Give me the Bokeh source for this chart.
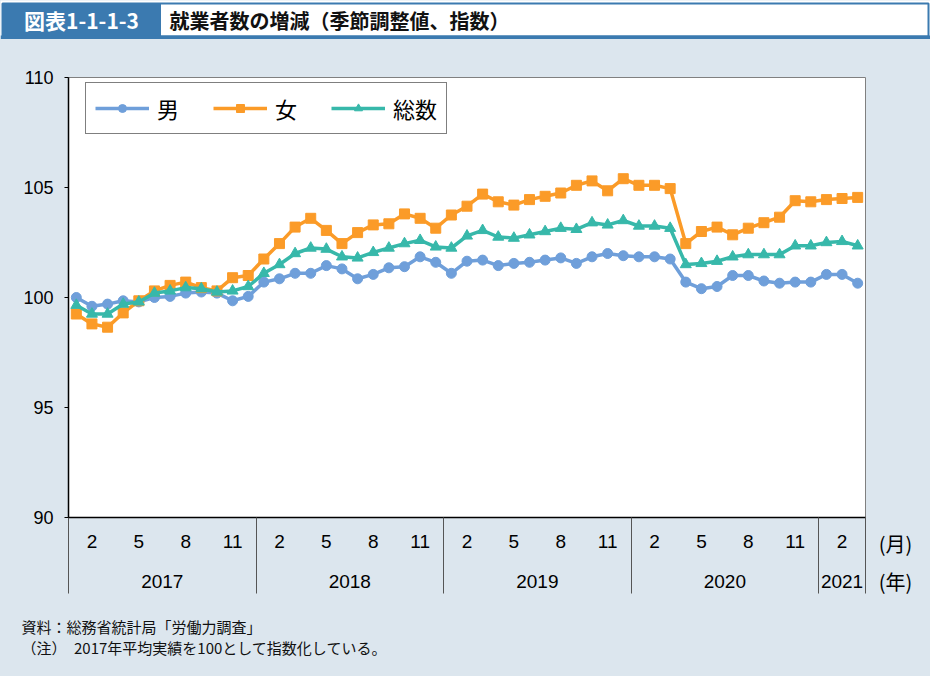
from bokeh.plotting import figure
from bokeh.models import Range1d, FixedTicker, LinearAxis, Legend, LegendItem
from bokeh.layouts import column, row
from bokeh.embed import file_html
from bokeh.resources import INLINE
from bokeh.core.properties import value

# ---------------- data ----------------
years = ["2017", "2018", "2019", "2020", "2021"]
months_per_year = [12, 12, 12, 12, 3]
labeled_months = [2, 5, 8, 11]
month_labels = ["2", "5", "8", "11"]
series_names = ["男", "女", "総数"]
unit_labels = ["(月)", "(年)"]
notes = ["資料：総務省統計局「労働力調査」",
         "（注）　2017年平均実績を100として指数化している。"]

men = [100.0, 99.6, 99.7, 99.85, 99.8, 100.0, 100.05, 100.2, 100.25, 100.2, 99.85, 100.05,
       100.7, 100.85, 101.1, 101.1, 101.45, 101.3, 100.85, 101.05, 101.35, 101.4, 101.85, 101.6,
       101.1, 101.65, 101.7, 101.45, 101.55, 101.6, 101.7, 101.8, 101.55, 101.85, 102.0, 101.9,
       101.85, 101.85, 101.75, 100.7, 100.4, 100.5, 101.0, 101.0, 100.75, 100.65, 100.7, 100.7,
       101.05, 101.05, 100.65]
women = [99.25, 98.8, 98.65, 99.3, 99.85, 100.3, 100.55, 100.7, 100.45, 100.3, 100.9, 101.0,
         101.75, 102.45, 103.2, 103.6, 103.05, 102.45, 102.95, 103.3, 103.35, 103.8, 103.6, 103.15,
         103.75, 104.15, 104.7, 104.35, 104.2, 104.45, 104.6, 104.75, 105.1, 105.3, 104.85, 105.4,
         105.1, 105.1, 104.95, 102.45, 103.0, 103.2, 102.85, 103.15, 103.4, 103.65, 104.4, 104.35,
         104.45, 104.5, 104.55]
total = [99.65, 99.25, 99.25, 99.7, 99.8, 100.2, 100.3, 100.45, 100.4, 100.25, 100.3, 100.5,
         101.1, 101.5, 102.0, 102.25, 102.2, 101.85, 101.8, 102.05, 102.25, 102.45, 102.6, 102.3,
         102.25, 102.8, 103.05, 102.75, 102.7, 102.85, 103.0, 103.15, 103.1, 103.4, 103.3, 103.5,
         103.25, 103.25, 103.15, 101.5, 101.55, 101.65, 101.85, 101.95, 101.95, 101.95, 102.35, 102.35,
         102.5, 102.55, 102.35]
y_ticks = [90, 95, 100, 105, 110]

# ---------------- derived positions ----------------
periods = [(y, m) for y, n in zip(years, months_per_year) for m in range(1, n + 1)]
x = list(range(len(periods)))
month_ticks = [i for i, (yy, m) in enumerate(periods) if m in labeled_months]
month_overrides = {i: month_labels[labeled_months.index(periods[i][1])] for i in month_ticks}
starts = []
s = 0
for n in months_per_year:
    starts.append(s)
    s += n
year_centers = [st + (n - 1) / 2 for st, n in zip(starts, months_per_year)]
year_overrides = {c: yy for c, yy in zip(year_centers, years)}
boundaries = [st - 0.5 for st in starts] + [len(periods) - 0.5]

# ---------------- style / layout ----------------
C_MEN, C_WOMEN, C_TOTAL = "#6f9fda", "#fb9b28", "#37b8aa"
BG = "#dce6ee"
BLUE = "#3b7ab0"
JP = "Noto Sans CJK JP"
NUM = "Liberation Sans"

FIG_W, FIG_H = 930, 676
TITLE_H = 39
L, T, W, H = 68, 38, 797, 440
MAIN_W = L + W + 2
MAIN_H = 563
FOOT_H = FIG_H - TITLE_H - MAIN_H
SIDE_W = FIG_W - MAIN_W
SEP = 76  # separator length below the axis


def plain(width, height, xr, yr, bg):
    f = figure(width=width, height=height, output_backend="svg", toolbar_location=None,
               x_range=Range1d(*xr), y_range=Range1d(*yr),
               x_axis_location=None, y_axis_location=None, min_border=0,
               outline_line_color=None, background_fill_color=bg, border_fill_color=bg)
    f.frame_align = False
    f.grid.visible = False
    return f


# ---------------- title bar ----------------
t = plain(FIG_W, TITLE_H, (0, FIG_W), (TITLE_H, 0), "white")
t.quad(left=[2], right=[FIG_W - 2], top=[3], bottom=[36], fill_color="white", line_color=BLUE, line_width=2)
t.quad(left=[2], right=[160], top=[3], bottom=[36], fill_color=BLUE, line_color=BLUE, line_width=1)
t.quad(left=[0], right=[FIG_W], top=[35], bottom=[39], fill_color=BLUE, line_color=None)
t.text(x=[81], y=[19.5], text=["図表1-1-1-3"], text_color="white", text_font=value(JP),
       text_font_style="bold", text_font_size="21px", text_align="center", text_baseline="middle")
t.text(x=[169], y=[19.5], text=["就業者数の増減（季節調整値、指数）"], text_color="#111111",
       text_font=value(JP), text_font_style="bold", text_font_size="20px",
       text_align="left", text_baseline="middle")

# ---------------- main chart ----------------
p = figure(width=MAIN_W, height=MAIN_H, output_backend="svg", toolbar_location=None,
           x_range=Range1d(-0.5, len(periods) - 0.5), y_range=Range1d(90, 110),
           x_axis_location=None, y_axis_location=None,
           min_border_left=L, min_border_top=T, min_border_right=MAIN_W - L - W,
           min_border_bottom=MAIN_H - T - H,
           background_fill_color="white", border_fill_color=BG,
           outline_line_color="#808080", outline_line_width=1)
p.frame_align = False
p.grid.visible = False

yax = LinearAxis(ticker=FixedTicker(ticks=y_ticks), axis_line_color="black", axis_line_width=1.5,
                 major_tick_out=4, major_tick_in=0, major_tick_line_color="black",
                 minor_tick_line_color=None, major_label_standoff=11,
                 major_label_text_font=NUM, major_label_text_font_size="18px",
                 major_label_text_color="black")
p.add_layout(yax, "left")

xax = LinearAxis(ticker=FixedTicker(ticks=month_ticks, minor_ticks=boundaries),
                 major_label_overrides=month_overrides,
                 axis_line_color="black", axis_line_width=1.5,
                 major_tick_in=0, major_tick_out=0, major_tick_line_color=None,
                 minor_tick_in=0, minor_tick_out=SEP, minor_tick_line_color="#555555",
                 minor_tick_line_width=1,
                 major_label_standoff=17 - SEP, major_label_text_font=NUM,
                 major_label_text_font_size="19px", major_label_text_color="black")
p.add_layout(xax, "below")

yearax = LinearAxis(ticker=FixedTicker(ticks=year_centers), major_label_overrides=year_overrides,
                    axis_line_color=None, major_tick_in=0, major_tick_out=0,
                    major_tick_line_color=None, minor_tick_line_color=None,
                    major_label_standoff=24, major_label_text_font=NUM,
                    major_label_text_font_size="19px", major_label_text_color="black")
p.add_layout(yearax, "below")

items = []
for name, data, col, mk, sz in [(series_names[0], men, C_MEN, "circle", 10),
                                 (series_names[1], women, C_WOMEN, "square", 10),
                                 (series_names[2], total, C_TOTAL, "triangle", 11)]:
    rl = p.line(x, data, line_color=col, line_width=3.5)
    rm = p.scatter(x, data, marker=mk, size=sz, fill_color=col, line_color=col)
    items.append(LegendItem(label=name, renderers=[rl, rm]))

legend = Legend(items=items, orientation="horizontal", location=(17, 383),
                padding=9, spacing=34, label_standoff=8, glyph_width=54, glyph_height=20,
                label_height=22, label_text_font=JP, label_text_font_size="22px",
                label_text_color="black", border_line_color="black", border_line_width=1.5,
                background_fill_color="white", background_fill_alpha=1.0, margin=0)
p.add_layout(legend, "center")

# ---------------- unit labels at the right of the axis ----------------
side = plain(SIDE_W, MAIN_H, (0, SIDE_W), (MAIN_H, 0), BG)
side.text(x=[28, 28], y=[504, 542], text=unit_labels, text_align="center", text_baseline="middle",
          text_font=value(JP), text_font_size="20px", text_color="black")

# ---------------- footnotes ----------------
foot = plain(FIG_W, FOOT_H, (0, FIG_W), (FOOT_H, 0), BG)
foot.text(x=[21, 21], y=[24, 45], text=notes, text_align="left", text_baseline="middle",
          text_font=value(JP), text_font_size="15px", text_color="#111111")

body = row(p, side, spacing=0, styles={"background-color": BG})
layout = column(t, body, foot, spacing=0, styles={"background-color": BG})
open("out.html", "w").write(file_html(layout, INLINE))
